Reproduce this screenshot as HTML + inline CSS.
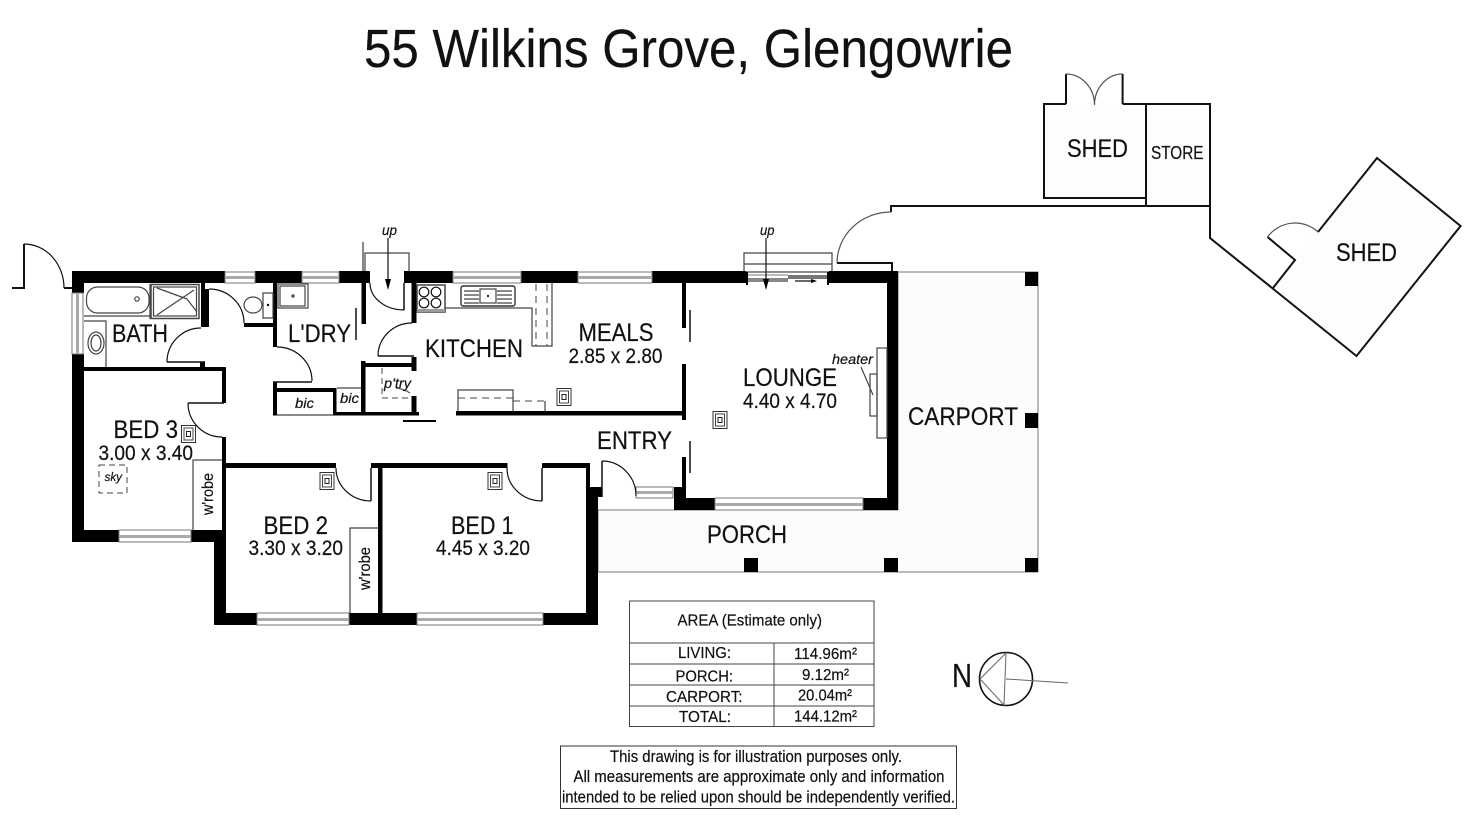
<!DOCTYPE html>
<html><head><meta charset="utf-8"><style>
html,body{margin:0;padding:0;background:#fff;width:1472px;height:826px;overflow:hidden}
svg{display:block;filter:blur(.35px)}
text{font-family:"Liberation Sans",sans-serif;fill:#111;stroke:#111;stroke-width:.2}
.t{font-size:25px}.d{font-size:21px}.i{font-style:italic;font-size:14px}.s{font-size:16px}.m{font-size:17px}
.l{fill:none;stroke:#111;stroke-width:1.2}
.g{fill:none;stroke:#444;stroke-width:1.2}
.h{fill:none;stroke:#111;stroke-width:2}
.w{fill:#fff;stroke:#777;stroke-width:1}
.dash{fill:none;stroke:#444;stroke-width:1;stroke-dasharray:7 5}
</style></head><body>
<svg width="1472" height="826" viewBox="0 0 1472 826" xmlns="http://www.w3.org/2000/svg">
<defs>
<g id="reg"><rect x="-7" y="-8.5" width="14" height="17" fill="#fff" stroke="#333" stroke-width="1"/><rect x="-4.5" y="-6" width="9" height="12" fill="none" stroke="#444"/><rect x="-2" y="-2.5" width="4" height="5" fill="none" stroke="#222"/></g>
</defs>
<rect width="1472" height="826" fill="#fff"/>

<text x="364" y="67" font-size="54" textLength="649" lengthAdjust="spacingAndGlyphs">55 Wilkins Grove, Glengowrie</text>

<!-- porch & carport -->
<path d="M899,272H1038V572H598V510H674V510H898V272Z" fill="#fcfcfc" stroke="#777" stroke-width="1"/>
<g fill="#000">
<rect x="1025" y="272" width="13" height="14"/><rect x="1025" y="413" width="13" height="15"/><rect x="1025" y="558" width="13" height="14"/>
<rect x="744" y="558" width="14" height="14"/><rect x="884" y="558" width="14" height="14"/>
</g>

<!-- yard fence and sheds -->
<path d="M1044,104H1146V198H1044Z M1146,104H1210V206H1146Z" fill="#fdfdfd"/>
<path d="M1377,158L1460.6,226L1356.5,356L1273,288L1295,260L1318,232Z" fill="#fdfdfd"/>
<path class="h" d="M892,272V263H837 M891,212V206H1210V238L1356.5,356L1460.6,226L1377,158L1318,232"/>
<path class="h" d="M1267.5,237L1295,260L1273,288"/>
<path class="h" d="M1066,104H1044V198H1146V104H1122.6 M1066,104V74 M1122.6,104V74 M1146,104H1210V206 M1146,198V206"/>
<path class="l" style="stroke:#555" d="M837,263A54,51 0 0 1 891,212 M1066,74A28.5,31 0 0 1 1094.5,105 M1122.6,74A28.1,31 0 0 0 1094.5,105 M1318,232A34,34 0 0 0 1267.5,237"/>

<!-- walls -->
<g fill="#000">
<!-- top -->
<rect x="72" y="271" width="153" height="12"/><rect x="255" y="271" width="47" height="12"/><rect x="339" y="271" width="31" height="12"/>
<rect x="404" y="271" width="49" height="12"/><rect x="521" y="271" width="57" height="12"/><rect x="652" y="271" width="94" height="12"/><rect x="829" y="271" width="69" height="12"/>
<!-- outer left -->
<rect x="72" y="271" width="12" height="22"/><rect x="72" y="354" width="12" height="188"/>
<!-- bed 3 -->
<rect x="84" y="367" width="142" height="4"/><rect x="222" y="367" width="4" height="36"/><rect x="222" y="437" width="4" height="95"/>
<rect x="72" y="530" width="47" height="12"/><rect x="191" y="530" width="35" height="12"/>
<rect x="214" y="530" width="12" height="95"/>
<!-- bed 2/1 top -->
<rect x="222" y="463" width="114" height="5"/><rect x="371" y="463" width="136.500" height="5"/><rect x="542" y="463" width="48" height="5"/>
<rect x="378" y="463" width="4.500" height="162"/>
<!-- bottom -->
<rect x="214" y="613" width="43" height="12"/><rect x="349" y="613" width="68" height="12"/><rect x="543" y="613" width="55" height="12"/>
<rect x="586" y="463" width="4" height="30"/><rect x="586" y="487" width="12" height="138"/><rect x="590" y="487" width="12" height="10"/>
<!-- bath -->
<rect x="201" y="283" width="4" height="44"/><rect x="205" y="289" width="4" height="38"/><rect x="244" y="323" width="33" height="4"/>
<rect x="273" y="283" width="4" height="64"/><rect x="200" y="362" width="5" height="6"/>
<rect x="273" y="382" width="4" height="33.500"/><rect x="273" y="388" width="60" height="4"/><rect x="333" y="388" width="3.500" height="27.500"/>
<rect x="333" y="412" width="86" height="3.500"/>
<rect x="361" y="361" width="4.500" height="54"/><rect x="361" y="363" width="54" height="4"/>
<rect x="361.500" y="283" width="4.500" height="41"/>
<rect x="411.500" y="283" width="5" height="40"/><rect x="411.500" y="357" width="5" height="14"/><rect x="411.500" y="396" width="5" height="19"/>
<rect x="403" y="420" width="33" height="2"/>
<!-- meals/lounge -->
<rect x="456" y="411" width="230" height="4.500"/>
<rect x="682" y="283" width="4" height="45"/><rect x="682" y="364" width="4" height="56"/><rect x="682" y="457" width="4" height="41"/>
<rect x="887" y="271" width="11" height="239"/>
<rect x="674" y="487" width="12" height="23"/><rect x="674" y="498" width="41" height="12"/><rect x="863" y="498" width="35" height="12"/>
</g>

<!-- windows -->
<g>
<rect class="w" x="225" y="272" width="30" height="11"/><rect x="225" y="276" width="30" height="3" fill="#aaa"/>
<rect class="w" x="302" y="272" width="37" height="11"/><rect x="302" y="276" width="37" height="3" fill="#aaa"/>
<rect class="w" x="453" y="272" width="68" height="11"/><rect x="453" y="276" width="68" height="3" fill="#aaa"/>
<rect class="w" x="578" y="272" width="74" height="11"/><rect x="578" y="276" width="74" height="3" fill="#aaa"/>
<rect class="w" x="715" y="498" width="148" height="12"/><rect x="715" y="503" width="148" height="3" fill="#aaa"/>
<rect class="w" x="636" y="487" width="37" height="11"/><rect x="636" y="491" width="37" height="3" fill="#aaa"/>
<rect class="w" x="119" y="530" width="72" height="12"/><rect x="119" y="535" width="72" height="3" fill="#aaa"/>
<rect class="w" x="257" y="613" width="92" height="12"/><rect x="257" y="618" width="92" height="3" fill="#aaa"/>
<rect class="w" x="417" y="613" width="126" height="12"/><rect x="417" y="618" width="126" height="3" fill="#aaa"/>
<rect class="w" x="72" y="293" width="11" height="61"/><rect x="76" y="293" width="3" height="61" fill="#aaa"/>
<!-- slider -->
<path d="M746,272H829" stroke="#666" stroke-width="1.500" fill="none"/>
<rect x="746" y="274" width="83" height="10" fill="#fff"/>
<path d="M747,275H788" stroke="#777" fill="none"/>
<rect x="748" y="278" width="40" height="4" fill="#888"/><rect x="788" y="275" width="40" height="4" fill="#777"/>
<rect x="746" y="272" width="2" height="13" fill="#000"/><rect x="827" y="272" width="2" height="13" fill="#000"/>
</g>
<path class="l" d="M795,281H813"/><path d="M811,279L817,281L811,283Z" fill="#000"/>

<!-- door arcs and leaves -->
<path class="h" d="M12,288H24V244 M64,288H72"/>
<path class="l" d="M24,244A40,44 0 0 1 64,288"/>
<path class="l" d="M370,283A34,27 0 0 0 404,310"/><path class="h" style="stroke-width:1.500" d="M404,283V310"/>
<path class="l" d="M167,362A34,34 0 0 1 201,328"/><path class="h" style="stroke-width:1.500" d="M167,362H205"/>
<path class="l" d="M209,289A35,34 0 0 1 244,323"/>
<path class="l" d="M277,347A35,34 0 0 1 312,381"/><path class="h" style="stroke-width:1.500" d="M273,382H312"/>
<path class="l" d="M188,403A34,34 0 0 0 222,437"/><path class="h" style="stroke-width:1.500" d="M188,403H224"/>
<path class="l" d="M412,323A34,33 0 0 0 378,356"/><path class="h" style="stroke-width:1.500" d="M378,356H414"/>
<path class="l" d="M336,468A35,33 0 0 0 371,501"/><path class="h" style="stroke-width:1.500" d="M371,468V501"/>
<path class="l" d="M507,468A35,33 0 0 0 542,501"/><path class="h" style="stroke-width:1.500" d="M542,468V501"/>
<path class="l" d="M602,461A34,35 0 0 1 636,496"/><path class="h" style="stroke-width:1.500" d="M602,461V497"/>

<!-- sliding door lines -->
<path class="h" style="stroke-width:1.500" d="M690,310V342 M690,441V473 M356,308V340"/>

<!-- steps -->
<path class="g" d="M365,271V253H409V271"/>
<rect x="362" y="242" width="2" height="29" fill="#888"/>
<path class="g" d="M744,271V253H832V271 M744,264H832"/>
<path class="l" d="M388,238V286 M766,238V288"/>
<path d="M385,279L388,290L391,279Z M763,279L766,290L769,279Z" fill="#000"/>

<!-- bathroom fixtures -->
<rect class="g" x="86.500" y="287" width="62.500" height="26" rx="11"/>
<path class="g" d="M84,316H150 M150,284V319"/>
<circle cx="137" cy="299" r="2.200" class="g"/>
<rect class="g" x="151" y="284.500" width="48" height="34" style="stroke-width:1.500"/>
<rect class="g" x="153.500" y="287" width="43" height="29"/>
<path class="g" d="M157,288L187,299 M187,299L197,312 M157,315L194,290"/>
<path class="g" d="M84,321H106V367"/>
<ellipse class="g" cx="96" cy="343" rx="8" ry="11"/><ellipse class="g" cx="96" cy="343" rx="5" ry="8"/>
<ellipse class="g" cx="253" cy="305" rx="9" ry="8"/>
<path class="g" d="M263,293H273V318H263Z"/><circle cx="268" cy="305" r="1.200" fill="#000"/>
<rect class="g" x="278" y="284" width="30" height="24"/><rect class="g" x="280" y="286" width="25" height="20"/><circle cx="293" cy="296" r="1.800" fill="#555"/>

<!-- kitchen -->
<rect class="g" x="417" y="285" width="28" height="27" style="stroke-width:1.500"/>
<circle class="l" cx="424" cy="292" r="4.800"/><circle class="l" cx="436" cy="292" r="4.800"/><circle class="l" cx="424" cy="303" r="4.800"/><circle class="l" cx="436" cy="303" r="4.800"/>
<rect x="417" y="309" width="28" height="3" fill="#999"/>
<rect x="461" y="286" width="54" height="20" rx="2" fill="#fff" stroke="#333" stroke-width="1.400"/>
<path class="g" d="M464,291H479 M464,295H479 M464,299H479 M464,303H479 M497,291H512 M497,295H512 M497,299H512 M497,303H512"/>
<rect class="g" x="480" y="289" width="16" height="14"/><circle cx="488" cy="296" r="1.200" fill="#333"/>
<path class="g" d="M445,308H532V346H552V283"/>
<path class="dash" d="M536,284V346 M547,284V346"/>
<path class="g" d="M458,411V390H513V411 M545,411V401"/>
<path class="dash" d="M458,398H513 M513,401H545"/>

<!-- wardrobes, bic -->
<path class="g" d="M193,530V460H222 M350,613V528H378 M277,415H333 M337,388H361"/>
<path class="dash" style="stroke-dasharray:6 4" d="M382,368V398H410 M99,465H127V493H99Z"/>
<path class="l" style="stroke:#555" d="M396,388Q404,389 410,393"/>

<!-- heater -->
<rect class="g" x="877" y="348" width="10" height="90"/><rect class="g" x="870" y="374" width="7" height="42"/>
<path class="g" d="M861,367L873,395"/>

<!-- registers -->
<use href="#reg" x="188.500" y="434"/><use href="#reg" x="327" y="481"/><use href="#reg" x="495" y="481"/><use href="#reg" x="564" y="397"/><use href="#reg" x="720" y="420"/>

<!-- room labels -->
<text class="t" x="112" y="342" textLength="56" lengthAdjust="spacingAndGlyphs">BATH</text>
<text class="t" x="288" y="342" textLength="63" lengthAdjust="spacingAndGlyphs">L'DRY</text>
<text class="t" x="425" y="357" textLength="98" lengthAdjust="spacingAndGlyphs">KITCHEN</text>
<text class="t" x="578.500" y="341" textLength="75" lengthAdjust="spacingAndGlyphs">MEALS</text>
<text class="d" x="568.500" y="363" textLength="94" lengthAdjust="spacingAndGlyphs">2.85 x 2.80</text>
<text class="t" x="743" y="386" textLength="94" lengthAdjust="spacingAndGlyphs">LOUNGE</text>
<text class="d" x="743" y="408" textLength="94" lengthAdjust="spacingAndGlyphs">4.40 x 4.70</text>
<text class="t" x="597" y="449" textLength="75" lengthAdjust="spacingAndGlyphs">ENTRY</text>
<text class="t" x="908" y="425" textLength="110" lengthAdjust="spacingAndGlyphs">CARPORT</text>
<text class="t" x="707" y="543" textLength="80" lengthAdjust="spacingAndGlyphs">PORCH</text>
<text class="t" x="113.500" y="438" textLength="64.500" lengthAdjust="spacingAndGlyphs">BED 3</text>
<text class="d" x="98.500" y="460" textLength="94.500" lengthAdjust="spacingAndGlyphs">3.00 x 3.40</text>
<text class="t" x="263.500" y="534" textLength="64.500" lengthAdjust="spacingAndGlyphs">BED 2</text>
<text class="d" x="248.500" y="555" textLength="94.500" lengthAdjust="spacingAndGlyphs">3.30 x 3.20</text>
<text class="t" x="451" y="534" textLength="62.500" lengthAdjust="spacingAndGlyphs">BED 1</text>
<text class="d" x="436" y="555" textLength="94" lengthAdjust="spacingAndGlyphs">4.45 x 3.20</text>
<text class="t" x="1067" y="157" textLength="61" lengthAdjust="spacingAndGlyphs">SHED</text>
<text x="1151" y="159" font-size="18" textLength="52.500" lengthAdjust="spacingAndGlyphs">STORE</text>
<text class="t" x="1336" y="261" textLength="61" lengthAdjust="spacingAndGlyphs">SHED</text>

<text class="i" x="382" y="235" textLength="15" lengthAdjust="spacingAndGlyphs">up</text>
<text class="i" x="760" y="235" textLength="14.500" lengthAdjust="spacingAndGlyphs">up</text>
<text class="i" x="832" y="364" textLength="41" lengthAdjust="spacingAndGlyphs">heater</text>
<text class="i" x="295" y="408" textLength="19" lengthAdjust="spacingAndGlyphs">bic</text>
<text class="i" x="340" y="403" textLength="19" lengthAdjust="spacingAndGlyphs">bic</text>
<text class="i" x="384" y="388" textLength="27" lengthAdjust="spacingAndGlyphs">p'try</text>
<text class="i" style="font-size:12px" x="104.500" y="481" textLength="17.500" lengthAdjust="spacingAndGlyphs">sky</text>
<text class="s" transform="translate(213,515) rotate(-90)" textLength="42" lengthAdjust="spacingAndGlyphs">w'robe</text>
<text class="s" transform="translate(370,590) rotate(-90)" textLength="43" lengthAdjust="spacingAndGlyphs">w'robe</text>

<!-- area table -->
<rect x="629.500" y="601" width="244.500" height="125.500" fill="#fff" stroke="#444" stroke-width="1"/>
<path d="M629.500,643H874 M629.500,664H874 M629.500,685H874 M629.500,706H874 M774,643V726.500" fill="none" stroke="#444" stroke-width="1"/>
<text class="s" x="677.500" y="625.500" textLength="144.500" lengthAdjust="spacingAndGlyphs">AREA (Estimate only)</text>
<text class="s" x="678" y="658" textLength="53" lengthAdjust="spacingAndGlyphs">LIVING:</text>
<text class="s" x="675.500" y="681.500" textLength="57.500" lengthAdjust="spacingAndGlyphs">PORCH:</text>
<text class="s" x="666" y="702" textLength="76.500" lengthAdjust="spacingAndGlyphs">CARPORT:</text>
<text class="s" x="679" y="722" textLength="52" lengthAdjust="spacingAndGlyphs">TOTAL:</text>
<text class="s" x="794" y="659" textLength="63" lengthAdjust="spacingAndGlyphs">114.96m²</text>
<text class="s" x="802" y="680" textLength="47" lengthAdjust="spacingAndGlyphs">9.12m²</text>
<text class="s" x="798" y="700.500" textLength="54" lengthAdjust="spacingAndGlyphs">20.04m²</text>
<text class="s" x="794" y="721.500" textLength="63" lengthAdjust="spacingAndGlyphs">144.12m²</text>

<!-- disclaimer -->
<rect x="560.500" y="746" width="396" height="62.500" fill="#fff" stroke="#333" stroke-width="1"/>
<text class="m" x="610" y="762" textLength="292" lengthAdjust="spacingAndGlyphs">This drawing is for illustration purposes only.</text>
<text class="m" x="573.500" y="782" textLength="371" lengthAdjust="spacingAndGlyphs">All measurements are approximate only and information</text>
<text class="m" x="562" y="802.500" textLength="393" lengthAdjust="spacingAndGlyphs">intended to be relied upon should be independently verified.</text>

<!-- north -->
<text x="952" y="687" font-size="33" textLength="20" lengthAdjust="spacingAndGlyphs">N</text>
<circle cx="1006" cy="679" r="26.500" fill="none" stroke="#111" stroke-width="1.600"/>
<path d="M980,679L1006,653L1004,705Z M1006,679L1068,683" fill="none" stroke="#666" stroke-width="1"/>
</svg>
</body></html>
